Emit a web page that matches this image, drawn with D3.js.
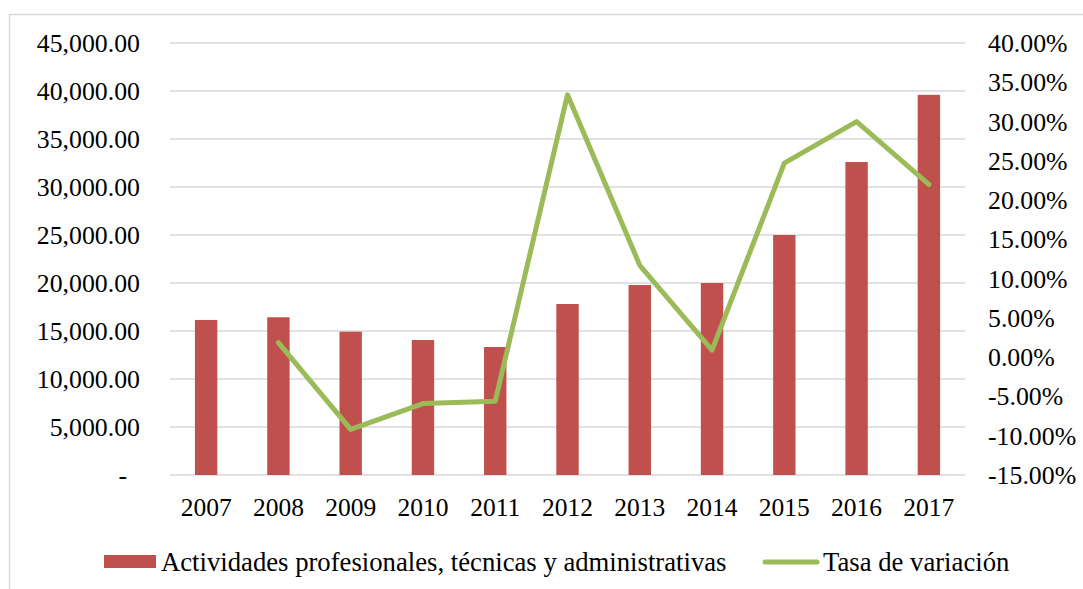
<!DOCTYPE html>
<html>
<head>
<meta charset="utf-8">
<script src="https://cdn.jsdelivr.net/npm/d3@7"></script>
<style>
  body { margin: 0; background: #fff; }
  svg { display: block; font-family: "Liberation Serif", "Times New Roman", serif; }
</style>
</head>
<body>
<div id="chart"></div>
<script>
// Data
const years = ["2007", "2008", "2009", "2010", "2011", "2012", "2013", "2014", "2015", "2016", "2017"];
const actividades = [16150, 16430, 14930, 14060, 13330, 17810, 19790, 20000, 25000, 32600, 39600];
const tasa = [null, 1.85, -9.2, -5.9, -5.6, 33.4, 11.7, 0.9, 24.7, 30.0, 22.0];
const leftTicks = [0, 5000, 10000, 15000, 20000, 25000, 30000, 35000, 40000, 45000];
const rightTicks = [-15, -10, -5, 0, 5, 10, 15, 20, 25, 30, 35, 40];

const W = 1083, H = 589;
const plot = { left: 170, right: 965, top: 43, bottom: 475 };

const svg = d3.select("#chart").append("svg")
  .attr("width", W)
  .attr("height", H);

// outer chart border
svg.append("rect")
  .attr("x", 9.5).attr("y", 14.5)
  .attr("width", 1100).attr("height", 600)
  .attr("fill", "none")
  .attr("stroke", "#d9d9d9")
  .attr("stroke-width", 1.5);

const x = d3.scaleBand()
  .domain(years)
  .range([plot.left, plot.right])
  .paddingInner(0.69)
  .paddingOuter(0.345);

const yL = d3.scaleLinear().domain([0, 45000]).range([plot.bottom, plot.top]);
const yR = d3.scaleLinear().domain([-15, 40]).range([plot.bottom, plot.top]);

// gridlines
svg.append("g")
  .selectAll("line")
  .data(leftTicks)
  .join("line")
  .attr("x1", plot.left).attr("x2", plot.right)
  .attr("y1", d => yL(d)).attr("y2", d => yL(d))
  .attr("stroke", "#d9d9d9")
  .attr("stroke-width", 1.5);

// left axis labels
const fmtL = d3.format(",.2f");
svg.append("g")
  .selectAll("text")
  .data(leftTicks)
  .join("text")
  .attr("x", d => d === 0 ? 127 : 140)
  .attr("y", d => yL(d))
  .attr("dy", "0.35em")
  .attr("text-anchor", "end")
  .attr("font-size", 25.8)
  .attr("fill", "#000")
  .text(d => d === 0 ? "-" : fmtL(d));

// right axis labels
svg.append("g")
  .selectAll("text")
  .data(rightTicks)
  .join("text")
  .attr("x", 988)
  .attr("y", d => yR(d))
  .attr("dy", "0.35em")
  .attr("text-anchor", "start")
  .attr("font-size", 25.8)
  .attr("fill", "#000")
  .text(d => d.toFixed(2) + "%");

// year labels
svg.append("g")
  .selectAll("text")
  .data(years)
  .join("text")
  .attr("x", d => x(d) + x.bandwidth() / 2)
  .attr("y", 507)
  .attr("dy", "0.35em")
  .attr("text-anchor", "middle")
  .attr("font-size", 25.5)
  .attr("fill", "#000")
  .text(d => d);

// bars
svg.append("g")
  .selectAll("rect")
  .data(actividades)
  .join("rect")
  .attr("x", (d, i) => x(years[i]))
  .attr("width", x.bandwidth())
  .attr("y", d => yL(d))
  .attr("height", d => yL(0) - yL(d))
  .attr("fill", "#C0504D");

// rate line
const line = d3.line()
  .defined(d => d != null)
  .x((d, i) => x(years[i]) + x.bandwidth() / 2)
  .y(d => yR(d));

svg.append("path")
  .datum(tasa)
  .attr("d", line)
  .attr("fill", "none")
  .attr("stroke", "#9BBB59")
  .attr("stroke-width", 5)
  .attr("stroke-linejoin", "round")
  .attr("stroke-linecap", "round");

// legend
const legend = svg.append("g");
legend.append("rect")
  .attr("x", 104).attr("y", 555)
  .attr("width", 52).attr("height", 13)
  .attr("fill", "#C0504D");
legend.append("text")
  .attr("x", 161).attr("y", 562)
  .attr("dy", "0.35em")
  .attr("font-size", 26.7)
  .text("Actividades profesionales, técnicas y administrativas");
legend.append("line")
  .attr("x1", 765).attr("x2", 817)
  .attr("y1", 562).attr("y2", 562)
  .attr("stroke", "#9BBB59")
  .attr("stroke-width", 5)
  .attr("stroke-linecap", "round");
legend.append("text")
  .attr("x", 823).attr("y", 562)
  .attr("dy", "0.35em")
  .attr("font-size", 26.7)
  .text("Tasa de variación");
</script>
</body>
</html>
